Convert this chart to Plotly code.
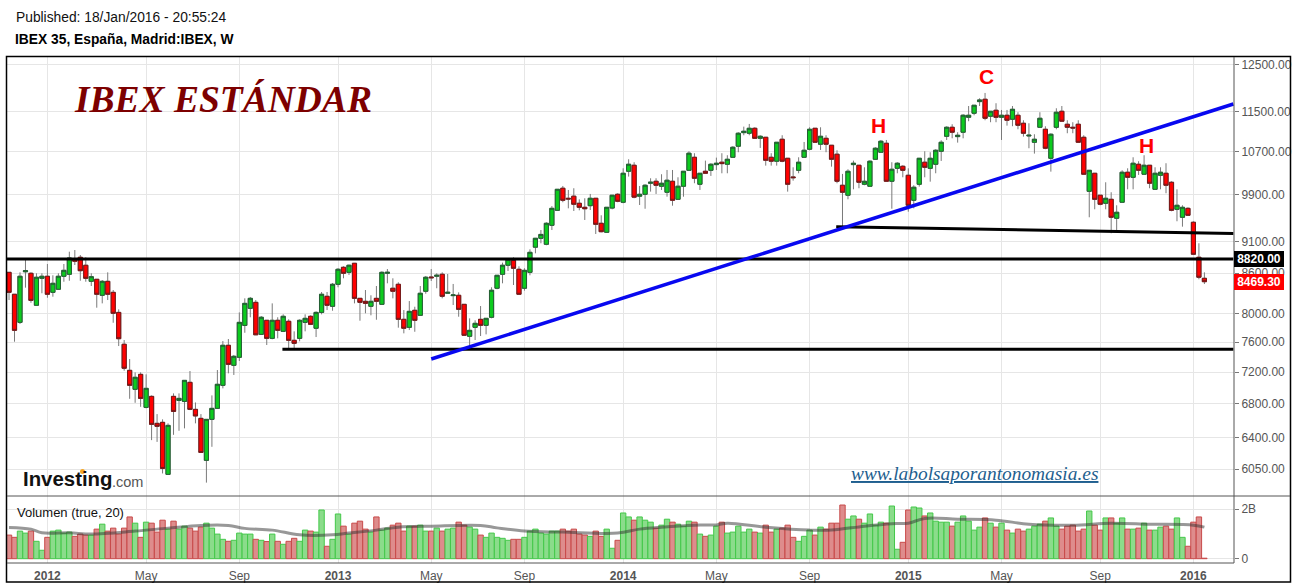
import pandas as pd
import plotly.graph_objects as go

opens = [8613,8280,7873,8622,8598,8118,8521,8552,8309,8355,8552,8583,8827,8849,8723,8475,8506,8265,8475,8309,8015,7569,7223,6981,7171,6758,6893,6567,6579,5992,6893,6843,6831,7069,6734,6626,6145,6614,6746,7031,7555,7288,7394,7830,8074,8161,7705,7902,7650,7902,7747,7888,7623,7650,7873,7959,7790,
8015,8250,8103,8430,8691,8613,8754,8220,8176,8103,8220,8132,8598,8370,8430,7916,7803,8045,7973,8325,8541,8552,8583,8295,8260,8265,8132,7678,7803,7916,7831,7945,8370,8583,8723,8801,8660,8370,8613,9011,9156,9058,9372,9628,
10017,9838,9875,9750,9680,9708,9838,9406,9255,9667,9909,9768,10327,10439,9875,9909,10107,10143,10053,9945,10143,9820,10053,10345,10590,10089,10327,10345,10451,10496,10458,10590,10802,11069,11057,11156,10957,10977,10590,10515,10938,10571,10222,10345,10590,10744,11156,10841,10957,10821,10648,10071,9892,10451,10439,10089,10053,10552,10686,10860,10143,10382,10420,10253,9803,10089,10496,10382,10458,10705,10997,11176,10990,11077,11379,11461,11703,11753,11400,11523,11379,11420,11338,11420,11257,11003,10879,11176,11136,10571,11176,11502,11237,11176,11237,10977,9962,10290,9892,9750,9820,9491,9768,10309,10216,10458,10272,10439,9998,10253,10290,10125,9645,9508,9662,9423,8849,8521]
highs = [8613,8280,8613,8833,8613,8598,8598,8743,8567,8598,8743,8938,8965,8885,8849,8598,8510,8495,8613,8344,8059,7627,7371,7197,7197,7171,6905,6677,6614,6567,6930,6930,7094,7214,6818,6677,6614,6905,7227,7613,7641,7425,8015,8220,8240,8195,7963,7906,8146,7945,7987,7916,7747,7916,7987,7973,8030,
8314,8314,8450,8680,8707,8733,8759,8225,8344,8265,8404,8629,8664,8521,8460,8049,8180,8097,8404,8557,8664,8598,8613,8587,8435,8309,8136,7930,7902,8107,7935,8385,8572,8764,8833,8849,8707,8676,8976,9161,9293,9423,9701,9998,
10058,9986,10017,9820,9838,9915,9838,9542,9680,9892,9927,10382,10552,10496,10058,10089,10198,10198,10272,10351,10351,10216,10327,10705,10667,10290,10526,10477,10583,10667,10629,10802,11077,11189,11243,11176,11017,10977,10667,10879,11017,10571,10401,10590,10885,11176,11156,11176,11017,10821,10724,10278,10364,10526,10439,10401,10533,10782,10924,10924,10496,10496,10439,10382,10071,10571,10705,10686,10744,10918,11196,11237,11077,11441,11611,11627,11774,11887,11502,11669,11529,11529,11611,11482,11318,11257,11037,11482,11196,11057,11564,11611,11318,11278,11318,11017,10345,10290,9892,10125,9945,9715,10345,10382,10590,10515,10629,10439,10401,10401,10477,10143,9998,9715,9680,9440,9074,8613]
lows = [8195,7604,7850,8379,8155,8118,8295,8229,8244,8344,8469,8484,8727,8484,8469,8404,8083,8146,8195,7867,7545,7218,6863,6814,6765,6746,6372,6352,6002,5992,6433,6480,6508,6725,6567,6233,5904,6296,6746,6993,7184,7163,7345,7727,7945,7695,7705,7559,7637,7650,7737,7491,7491,7609,7747,7835,7668,
7987,8049,8039,8385,8521,8572,8146,7896,8002,7973,7910,8132,8445,8220,7798,7719,7765,7741,7973,8288,8480,8370,8220,8295,8122,7953,7692,7514,7627,7682,7705,7930,8355,8445,8634,8419,8280,8334,8567,8912,9074,9042,9293,9628,
9768,9662,9616,9628,9462,9633,9227,9255,9255,9645,9768,9750,10229,9838,9720,9655,9956,9915,9986,9866,9708,9820,9866,10345,10107,9986,10290,10241,10351,10290,10290,10590,10686,11017,11017,10957,10769,10432,10432,10432,10496,9956,10154,10290,10590,10724,10879,10730,10686,10413,10107,9349,9820,9998,10017,10071,10053,10539,10686,10143,9655,10290,10216,9604,9662,10046,10216,10136,10290,10520,10924,10957,10872,10957,11298,11420,11611,11318,11278,11278,10924,11209,11197,11136,10990,10763,10660,11176,10744,10320,11136,11298,11057,11057,10879,10272,9508,9645,9715,9645,9239,9255,9768,9998,9998,10259,10272,10017,9998,9998,9927,9611,9440,9349,9542,8897,8506,8434]
closes = [8309,7761,8552,8638,8190,8537,8552,8280,8445,8552,8644,8838,8786,8638,8521,8546,8280,8475,8280,8002,7645,7250,7031,7133,6868,6993,6555,6532,6056,6543,6709,6868,7094,6734,6655,6233,6614,6746,7044,7555,7301,7407,7873,8146,8220,7699,7945,7650,7902,7761,7959,7623,7582,7902,7930,7845,8015,
8280,8118,8430,8660,8598,8723,8220,8161,8146,8176,8176,8613,8613,8325,7916,7790,8030,7902,8295,8537,8530,8567,8250,8309,8270,8059,7692,7761,7859,7831,7930,8340,8567,8723,8817,8676,8280,8644,8928,9156,9220,9406,9662,9998,
9803,9826,9733,9680,9655,9838,9389,9265,9680,9892,9785,10290,10458,9858,9909,10071,10125,10071,10107,10162,9803,10053,10327,10667,10198,10290,10290,10458,10477,10470,10552,10782,11057,11096,11156,10957,10997,10533,10515,10879,10515,10089,10209,10496,10724,11136,10879,10997,10841,10552,10143,9945,10327,10477,10125,10143,10515,10763,10899,10143,10364,10477,10345,9715,10035,10571,10401,10571,10724,10879,11176,11077,11017,11420,11420,11627,11738,11358,11502,11379,11420,11318,11543,11217,11057,11017,10938,11358,10763,11037,11482,11298,11176,11162,10879,10272,10345,9820,9733,9838,9508,9594,10309,10216,10477,10345,10439,10107,10290,10309,10071,9628,9715,9680,9542,8897,8537,8469.3]
volumes = [.95,.86,1.11,1.03,1.11,.70,.34,.86,1.11,1.15,1.03,1.07,.90,.99,.95,.95,1.19,1.39,1.11,1.23,.99,1.23,1.68,1.43,.86,1.47,1.43,1.07,1.55,1.19,1.51,1.19,1.31,1.23,1.11,1.27,1.43,1.23,.99,.78,.70,.74,1.03,.99,.99,.78,.74,.69,.99,.70,.58,.70,.82,.70,1.15,1.11,1.07,1.96,.50,.78,1.80,1.31,.99,1.43,1.51,1.19,1.07,1.68,1.15,1.23,1.35,1.43,1.11,1.31,1.31,1.35,1.11,1.11,1.23,
1.11,1.19,1.23,1.47,1.35,1.27,1.19,.95,.86,1.03,.86,.82,.74,.78,.78,.86,1.11,1.19,1.03,.99,1.11,1.11,1.19,1.11,1.19,.99,.95,.90,1.11,.90,1.19,.42,.74,1.84,1.68,1.55,1.68,1.55,1.47,1.23,1.35,1.59,1.47,1.39,1.31,1.51,1.47,.99,.90,.95,1.31,1.47,1.03,1.07,1.31,1.07,1.19,1.07,1.03,1.35,1.07,1.19,1.23,1.35,.86,.70,.90,1.15,.95,1.27,1.19,1.43,1.43,2.16,1.59,1.72,1.59,1.43,1.80,
1.35,1.47,1.43,2.12,.38,.66,1.96,2.08,2.04,1.72,1.84,1.51,1.47,1.47,1.31,1.47,1.72,1.51,1.15,1.27,1.64,1.43,1.27,1.43,1.15,1.03,1.19,1.11,1.19,1.31,1.39,1.51,1.64,1.31,1.19,1.31,1.35,1.11,1.19,1.92,1.35,1.15,1.64,1.64,1.43,1.64,1.19,1.19,1.23,1.43,1.15,1.15,1.27,1.31,1.19,1.64,.86,.50,1.47,1.68,.02]
ma_weeks = [1,5,7,12,16,24,30,36,41,44,49,54,60,63,68,72,78,87,90,95,102,112,116,120,126,130,132,139,147,151,157,162,165,168,174,181,187,195,202,209,217,219]
ma_values = [1.26,1.19,1.04,1.04,.99,1.11,1.23,1.34,1.34,1.22,1.15,.96,.96,1.03,1.15,1.27,1.31,1.34,1.24,1.11,1.07,1.03,1.19,1.27,1.35,1.36,1.43,1.27,1.15,1.15,1.31,1.41,1.43,1.62,1.59,1.55,1.39,1.35,1.43,1.39,1.35,1.27]

x_tick_dates = ["2012-01-02","2012-05-07","2012-09-03","2013-01-07","2013-05-06","2013-09-02","2014-01-06","2014-05-05","2014-09-01","2015-01-05","2015-05-04","2015-09-07","2016-01-04"]
x_tick_labels = ["<b>2012</b>","May","Sep","<b>2013</b>","May","Sep","<b>2014</b>","May","Sep","<b>2015</b>","May","Sep","<b>2016</b>"]
price_ticks = [6050,6400,6800,7200,7600,8000,8600,9100,9900,10700,11500,12500]
level_dates = ["2012-10-28","2016-02-24"]
support_prices = [7500,7500]
resist_dates = ["2011-11-11","2016-02-24"]
resist_prices = [8820,8820]
neck_dates = ["2014-10-05","2016-02-24"]
neck_prices = [9349,9237]
trend_dates = ["2013-05-06","2016-02-24"]
trend_prices = [7371,11654]

dates = pd.date_range("2011-11-14", periods=len(closes), freq="7D")
ma_dates = [dates[w - 1] for w in ma_weeks]
up = [c >= o for o, c in zip(opens, closes)]
body_hi = [max(o, c) for o, c in zip(opens, closes)]
body_lo = [min(o, c) for o, c in zip(opens, closes)]

W, H = 1297, 587
L, R, T, B = 7, 1234, 57, 563
SPLIT = 496
def px(x): return (x - L) / (R - L)
def py(y): return (B - y) / (B - T)

fig = go.Figure()
# wicks
fig.add_trace(go.Candlestick(x=dates, open=opens, high=highs, low=lows, close=closes,
    increasing=dict(line=dict(color="#7a7a7a", width=1), fillcolor="#7a7a7a"),
    decreasing=dict(line=dict(color="#7a7a7a", width=1), fillcolor="#7a7a7a"),
    whiskerwidth=0, hoverinfo="skip", showlegend=False))
# bodies
fig.add_trace(go.Candlestick(x=dates, open=opens, high=body_hi, low=body_lo, close=closes,
    increasing=dict(line=dict(color="#235f33", width=1), fillcolor="#0ccb1e"),
    decreasing=dict(line=dict(color="#741818", width=1), fillcolor="#ff0000"),
    whiskerwidth=0, hoverinfo="skip", showlegend=False))
for xs, ys, col, wd in [(level_dates, support_prices, "#000", 3), (resist_dates, resist_prices, "#000", 3),
                        (neck_dates, neck_prices, "#000", 3), (trend_dates, trend_prices, "#0808f0", 3.5)]:
    fig.add_trace(go.Scatter(x=xs, y=ys, mode="lines", line=dict(color=col, width=wd),
                             hoverinfo="skip", showlegend=False))
fig.add_trace(go.Bar(x=dates, y=volumes, yaxis="y2",
    marker=dict(color=["#8bdc8b" if u else "#de8c8c" for u in up],
                line=dict(color=["#44c84a" if u else "#c84a4a" for u in up], width=1)),
    hoverinfo="skip", showlegend=False))
fig.add_trace(go.Scatter(x=ma_dates, y=ma_values, yaxis="y2", mode="lines",
    line=dict(color="rgba(50,50,50,0.5)", width=3, shape="spline"), hoverinfo="skip", showlegend=False))

grid = "#e6e6e6"
tickfont = dict(family="Liberation Sans, Arial", size=12, color="#555")
fig.update_layout(
    width=W, height=H, paper_bgcolor="white", plot_bgcolor="white",
    margin=dict(l=L, r=W - R, t=T, b=H - B, autoexpand=False),
    bargap=0.02, boxgap=0.24, boxgroupgap=0, showlegend=False,
    xaxis=dict(type="date", range=["2011-11-11 10:00", "2016-02-24 19:00"], anchor="y2",
               tickmode="array", tickvals=x_tick_dates, ticktext=x_tick_labels,
               showgrid=True, gridcolor=grid, gridwidth=1, zeroline=False, ticks="",
               rangeslider=dict(visible=False), tickfont=tickfont, ticklabelstandoff=4),
    yaxis=dict(type="log", range=[3.7607, 4.1031], domain=[py(SPLIT), 1], side="right", anchor="x",
               tickmode="array", tickvals=price_ticks, ticktext=[f"{t:.2f}" for t in price_ticks],
               showgrid=True, gridcolor=grid, gridwidth=1, zeroline=False, ticks="outside",
               ticklen=4, tickcolor="#777", tickfont=tickfont),
    yaxis2=dict(range=[-0.173, 2.523], domain=[0, py(SPLIT)], side="right", anchor="x",
                tickmode="array", tickvals=[0, 2], ticktext=["0", "2B"],
                showgrid=True, gridcolor=grid, gridwidth=1, zeroline=False, ticks="outside",
                ticklen=4, tickcolor="#777", tickfont=tickfont),
)

def rule(x0, y0, x1, y1, color, width=1):
    return dict(type="line", xref="paper", yref="paper", x0=px(x0), y0=py(y0), x1=px(x1), y1=py(y1),
                line=dict(color=color, width=width), layer="above")
shapes = [
    dict(type="rect", xref="paper", yref="paper", x0=px(6.5), y0=py(582), x1=px(1290.5), y1=py(56.5),
         line=dict(color="#000", width=1.5), fillcolor="rgba(0,0,0,0)", layer="above"),
    rule(7, SPLIT, 1290, SPLIT, "#555"),
    rule(7, 563, 1234, 563, "#555"),
    rule(1234, 57, 1234, 563, "#555"),
    dict(type="circle", xref="paper", yref="paper", x0=px(80), y0=py(474), x1=px(85), y1=py(469),
         line=dict(width=0), fillcolor="#f5a623", layer="above"),
]
fig.update_layout(shapes=shapes)

def note(x, y, text, size, color="#000", family="Liberation Sans, Arial", anchor="left", **kw):
    fig.add_annotation(xref="paper", yref="paper", x=px(x), y=py(y), text=text, showarrow=False,
                       xanchor=anchor, yanchor="middle", align=anchor,
                       font=dict(family=family, size=size, color=color, **kw.pop("font_kw", {})), **kw)

note(14, 17, "Published: 18/Jan/2016 - 20:55:24", 13.8, "#111")
note(13, 40, "<b>IBEX 35, España, Madrid:IBEX, W</b>", 13.8, "#000")
note(72, 100, "<b><i>IBEX ESTÁNDAR</i></b>", 37.5, "#7d0000", "Liberation Serif, serif")
note(878, 125, "<b>H</b>", 21, "#ff0000", anchor="center")
note(986, 76, "<b>C</b>", 21, "#ff0000", anchor="center")
note(1146, 145, "<b>H</b>", 21, "#ff0000", anchor="center")
note(849, 473, "<i>www.labolsaporantonomasia.es</i>", 19.4, "#1f5f8f", "Liberation Serif, serif",
     font_kw=dict(lineposition="under"))
note(21, 479, "<b>Investing</b>", 20.4, "#111")
note(110, 482, ".com", 14.5, "#555")
note(15, 512, "Volumen (true, 20)", 13, "#111")
fig.add_annotation(xref="paper", yref="paper", x=px(1234), y=py(259), text="<b>8820.00</b>", showarrow=False,
                   xanchor="left", yanchor="middle", width=50, height=16, bgcolor="#000", borderpad=0, borderwidth=0,
                   font=dict(family="Liberation Sans, Arial", size=12, color="#fff"))
fig.add_annotation(xref="paper", yref="paper", x=px(1234), y=py(282), text="<b>8469.30</b>", showarrow=False,
                   xanchor="left", yanchor="middle", width=50, height=16, bgcolor="#ff0000", borderpad=0, borderwidth=0,
                   font=dict(family="Liberation Sans, Arial", size=12, color="#fff"))

fig.write_html("out.html", config=dict(displayModeBar=False),
               post_script="document.body.style.margin='0';")
